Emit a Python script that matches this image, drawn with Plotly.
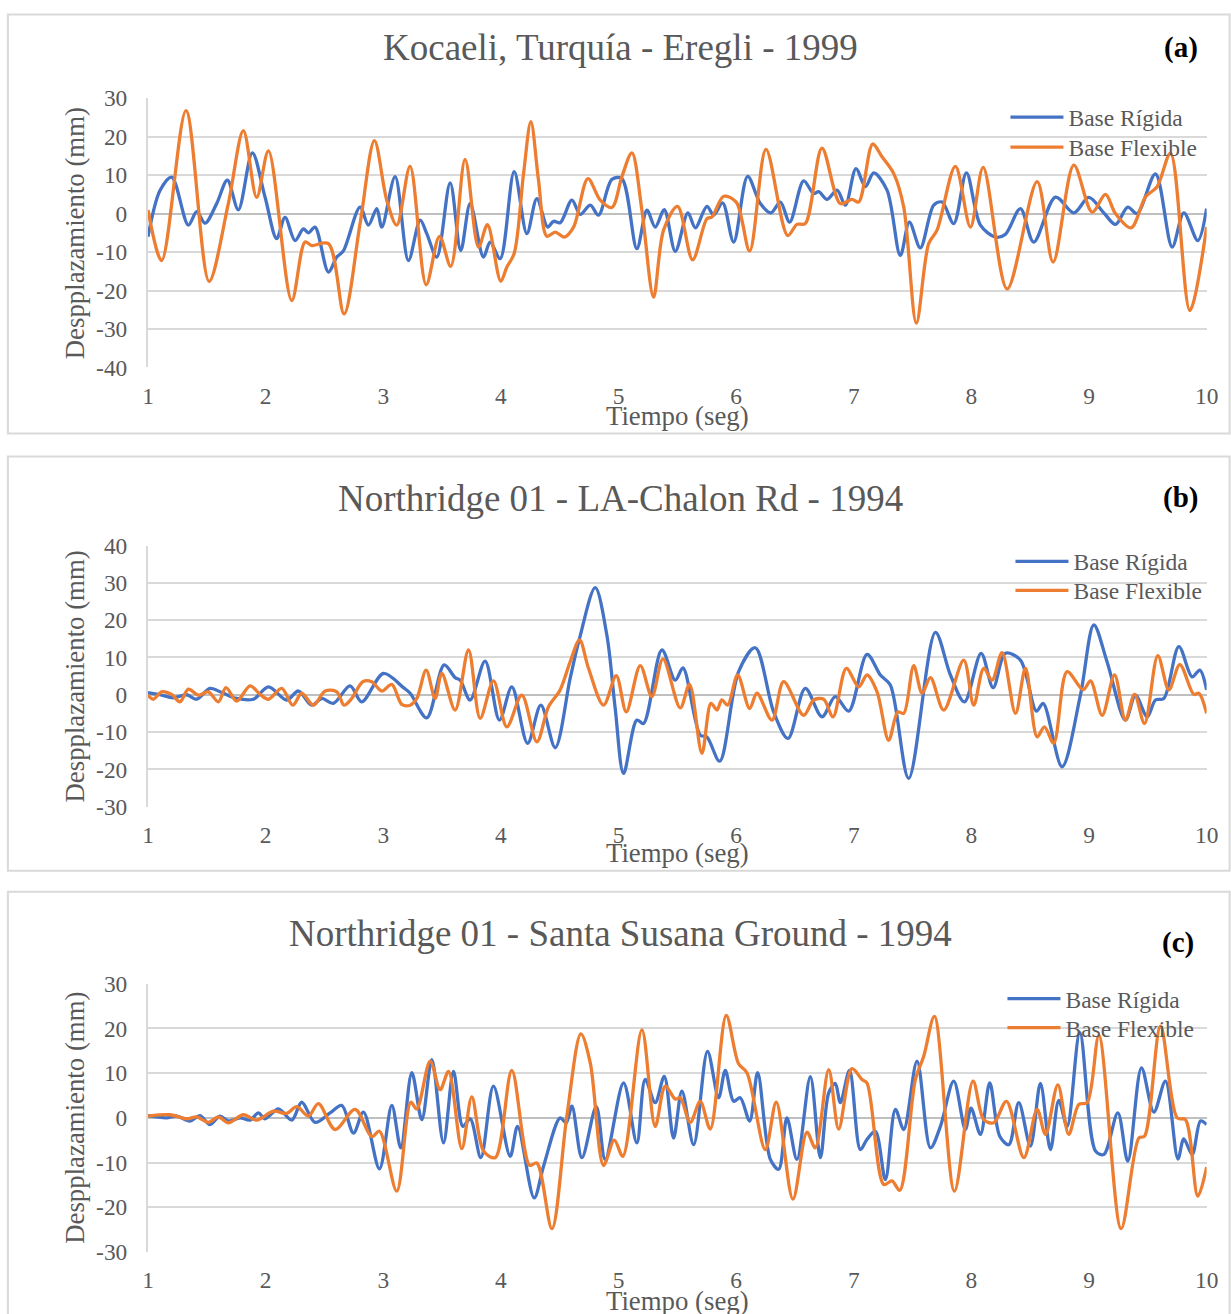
import plotly.graph_objects as go

# ---------------- data: displacement (mm) vs time (s) ----------------
# (a) Kocaeli, Turquía - Eregli - 1999
t_a_rig = [1.000, 1.102, 1.201, 1.343, 1.414, 1.485, 1.584, 1.675, 1.768, 1.887, 1.995, 2.094, 2.165, 2.250,
           2.321, 2.364, 2.420, 2.534, 2.605, 2.661, 2.803, 2.874, 2.945, 2.988, 3.101, 3.214, 3.314, 3.370,
           3.455, 3.569, 3.659, 3.739, 3.852, 3.909, 3.994, 4.113, 4.221, 4.306, 4.397, 4.448, 4.504, 4.604,
           4.675, 4.760, 4.830, 4.944, 5.029, 5.156, 5.242, 5.312, 5.389, 5.483, 5.590, 5.653, 5.752, 5.809,
           5.885, 5.979, 6.098, 6.206, 6.296, 6.376, 6.455, 6.574, 6.659, 6.702, 6.772, 6.858, 6.929, 7.019,
           7.099, 7.170, 7.283, 7.396, 7.473, 7.566, 7.680, 7.751, 7.850, 7.958, 8.077, 8.204, 8.289, 8.417,
           8.530, 8.715, 8.871, 8.998, 9.126, 9.225, 9.330, 9.409, 9.565, 9.707, 9.806, 9.925, 10.0]
a_rig = [-6, 6, 9.5, -3, 0.5, -2.5, 2.6, 8.7, 1, 15.8, 4.3, -6.5, -1, -7,
         -4, -5, -3.5, -15.2, -11.3, -9.7, 1.7, -3, 1.3, -3.5, 9.6, -12.2, -1.7, -5.2,
         -11.3, 8, -9.6, 2.6, -11.3, -7.4, -11.7, 10.9, -5.2, 3.9, -3.5, -2, -2.4, 3.5,
         -0.2, 2.2, -0.4, 8.9, 9.1, -9.1, 0.9, -3.5, 1, -9.8, 0.2, -3.7, 1.9, -0.4,
         2.8, -7.4, 9.7, 2.6, 0.2, 3, -2.2, 8.5, 5.2, 5.7, 3.7, 6.1, 2.2, 11.7,
         7, 10.6, 6.1, -10.9, -2.2, -8.9, 2.2, 3, -2.6, 10.6, -3, -6.1, -5.4, 1.3,
         -7.4, 4.3, 0.2, 4.2, 0.2, -2.8, 1.7, 0, 10.3, -8.7, 0.2, -7, 1.3]

t_a_flex = [1.000, 1.116, 1.323, 1.519, 1.683, 1.811, 1.924, 2.024, 2.222, 2.335, 2.392, 2.534, 2.667, 2.803,
            2.925, 3.030, 3.115, 3.228, 3.365, 3.478, 3.574, 3.696, 3.810, 3.886, 3.999, 4.051, 4.113, 4.193,
            4.255, 4.320, 4.391, 4.462, 4.538, 4.618, 4.740, 4.845, 4.944, 5.029, 5.114, 5.199, 5.298, 5.383,
            5.502, 5.630, 5.752, 5.794, 5.894, 6.001, 6.115, 6.254, 6.438, 6.517, 6.588, 6.730, 6.886, 6.985,
            7.042, 7.161, 7.240, 7.340, 7.425, 7.532, 7.637, 7.708, 7.864, 7.992, 8.100, 8.304, 8.559, 8.695,
            8.871, 9.027, 9.140, 9.225, 9.358, 9.480, 9.579, 9.693, 9.857, 10.0]
a_flex = [0.9, -12.2, 26.8, -17.6, 2.6, 21.6, 4.2, 16.3, -22.6, -7.4, -8.3, -7.8, -26.1, -2.6,
          19, 3.5, -3, 12.3, -18.5, -5.9, -13.7, 14.1, -8.7, -2.9, -17.6, -13.9, -10.4, 10.4,
          23.9, 8.7, -5.9, -4.8, -6.1, -3.5, 9.1, 3.5, 1.6, 9.6, 15.8, 0.9, -21.7, -4.3,
          1.9, -12, -1.3, -0.9, 4.5, 3, -9.7, 16.7, -5.7, -2.8, -2.6, 17, 2.6, 3.7,
          3, 18.1, 14.8, 10.4, 1.7, -28.5, -7.8, -4.3, 12.3, -3.5, 12, -19.6, 8.3, -12.6,
          12.6, 0.4, 5, 0, -3.7, 4.3, 7, 15.7, -25.2, -3.5]

# (b) Northridge 01 - LA-Chalon Rd - 1994
t_b_rig = [1.000, 1.102, 1.215, 1.329, 1.414, 1.527, 1.627, 1.754, 1.896, 2.024, 2.179, 2.279, 2.392, 2.477,
           2.576, 2.718, 2.817, 3.002, 3.172, 3.229, 3.370, 3.518, 3.611, 3.654, 3.739, 3.866, 3.988, 4.093,
           4.227, 4.340, 4.462, 4.589, 4.669, 4.802, 4.901, 4.972, 5.043, 5.156, 5.213, 5.369, 5.483, 5.548,
           5.695, 5.752, 5.860, 6.021, 6.163, 6.319, 6.441, 6.588, 6.730, 6.843, 6.957, 7.113, 7.226, 7.311,
           7.467, 7.694, 7.822, 7.941, 8.083, 8.185, 8.289, 8.417, 8.553, 8.610, 8.771, 8.927, 9.041, 9.154,
           9.310, 9.395, 9.495, 9.565, 9.636, 9.764, 9.877, 9.942, 10.0]
b_rig = [0.6, 0, -0.8, 0, -1.2, 1.7, 0.6, -1, -1.2, 2.1, -1.4, 1, -2.8, -1,
         -2.3, 2.4, -1.9, 5.7, 1.9, 0.4, -6.2, 8, 4.6, 3.9, -1.4, 9, -6.8, 2.1,
         -13, -2.8, -14.2, 4.4, 15.1, 28.7, 16, -3.7, -21.1, -6.8, -7.7, 12, 3.9, 7.2,
         -10.8, -11.3, -17.8, 6.2, 12.6, -4.6, -11.7, 1.7, -5.9, -0.5, -4.4, 10.8, 5.3, 2.6,
         -22.4, 16.7, 5.3, -1.9, 11.1, 1.9, 11.1, 9.3, -4.4, -2.3, -19.3, -0.1, 18.7, 8.8,
         -6.8, -0.1, -5.9, -1.4, -1, 12.9, 4.8, 6.6, 1.3]

t_b_flex = [1.000, 1.045, 1.116, 1.201, 1.272, 1.343, 1.428, 1.513, 1.598, 1.663, 1.754, 1.868, 1.953, 2.024,
            2.137, 2.231, 2.307, 2.406, 2.506, 2.605, 2.667, 2.732, 2.826, 2.902, 2.988, 3.073, 3.158, 3.229,
            3.285, 3.365, 3.441, 3.498, 3.611, 3.725, 3.824, 3.937, 4.051, 4.178, 4.306, 4.405, 4.504, 4.589,
            4.669, 4.745, 4.873, 4.981, 5.066, 5.185, 5.284, 5.378, 5.525, 5.604, 5.709, 5.786, 5.837, 5.879,
            5.928, 6.013, 6.115, 6.177, 6.305, 6.404, 6.574, 6.659, 6.744, 6.824, 6.937, 7.042, 7.113, 7.198,
            7.297, 7.374, 7.425, 7.510, 7.581, 7.652, 7.765, 7.935, 8.020, 8.105, 8.176, 8.261, 8.375, 8.460,
            8.559, 8.621, 8.700, 8.814, 8.950, 9.013, 9.112, 9.217, 9.310, 9.387, 9.472, 9.585, 9.679, 9.772,
            9.891, 9.934, 10.0]
b_flex = [-0.1, -1.2, 0.8, 0.1, -1.9, 1.5, -0.1, 0.8, -1.9, 1.9, -1.7, 2.4, 0.1, -1.2,
          1.7, -2.8, 0.4, -2.8, 1, 0.8, -2.8, -1, 3.5, 3.5, 1, 2.8, -2.6, -2.8,
          -1, 6.6, -1, 5.7, -4.1, 12, -6.3, 3.7, -8.6, -0.1, -12.6, -3.2, 1.3, 8.8,
          14.7, 7.1, -2.8, 5.1, -4.6, 7.8, -0.5, 9.6, -3.5, 2.8, -15.7, -2.3, -4.1, -1.4,
          -2.8, 5.3, -3.7, 0.4, -6.8, 3.5, -5.5, -1.4, -1.2, -5.9, 7.1, 2.1, 5.3, 0.8,
          -12.2, -4.6, -5, 7.8, 0.4, 4.6, -4.1, 9.3, -2.8, 7.1, 3.9, 11.3, -5, 7.1,
          -11.3, -8.6, -13, 6.2, 1.3, 3.7, -5.5, 5.3, -6.8, 0.1, -7.7, 10.5, 1.3, 8.1,
          0.1, 0.4, -5]

# (c) Northridge 01 - Santa Susana Ground - 1994
t_c_rig = [1.000, 1.074, 1.159, 1.244, 1.357, 1.442, 1.527, 1.612, 1.683, 1.783, 1.868, 1.938, 1.995, 2.109,
           2.222, 2.307, 2.420, 2.548, 2.647, 2.747, 2.832, 2.968, 3.073, 3.149, 3.243, 3.328, 3.413, 3.512,
           3.597, 3.677, 3.739, 3.830, 3.937, 4.079, 4.142, 4.283, 4.363, 4.504, 4.555, 4.604, 4.689, 4.811,
           4.887, 5.043, 5.156, 5.227, 5.312, 5.389, 5.468, 5.539, 5.639, 5.757, 5.851, 5.908, 5.979, 6.035,
           6.115, 6.183, 6.291, 6.362, 6.432, 6.517, 6.631, 6.716, 6.787, 6.843, 6.886, 6.964, 7.056, 7.113,
           7.184, 7.269, 7.354, 7.425, 7.538, 7.652, 7.737, 7.850, 7.949, 7.997, 8.077, 8.156, 8.241, 8.318,
           8.403, 8.502, 8.587, 8.672, 8.743, 8.814, 8.922, 9.055, 9.126, 9.245, 9.330, 9.446, 9.551, 9.650,
           9.756, 9.806, 9.877, 9.948, 10.0]
c_rig = [0.5, 0.2, 0, 0.4, -0.7, 0.5, -1.5, 0.4, -0.7, 0, -0.5, 1.1, -0.2, 2,
         -0.5, 3.5, -1, 1.1, 2.8, -3.4, 1.3, -11.4, 2.8, -6.7, 10.1, -0.4, 13, -5.6,
         10.4, -1.9, -0.2, -8.9, 7.1, -8.6, -1.9, -17.9, -10.8, 0, -1.1, 2.6, -8.9, 2.5,
         -9.3, 7.8, -5.6, 8.6, 3.4, 9.3, -4.5, 6, -6, 14.9, 4.5, 10.6, 3.7, 4.5,
         -0.7, 10.1, -9.3, -11.5, 0, -9.3, 9.2, -8.9, 5.6, 7.7, 3.4, 10.6, -7.1, -4.8,
         -3, -13.8, 1.9, -2.6, 12.7, -6.7, -1.9, 8.2, -2.6, 2.2, -3.7, 7.8, -4.1, -6,
         3.4, -6.3, 7.7, -7.1, 3.9, -1.9, 19.1, -7.4, -8.2, 1.1, -9.7, 11.2, 1.3, 8.2,
         -9.2, -4.7, -8.2, -0.7, -1.5]

t_c_flex = [1.000, 1.187, 1.329, 1.414, 1.513, 1.598, 1.683, 1.811, 1.924, 2.066, 2.179, 2.265, 2.364, 2.449,
            2.591, 2.761, 2.902, 2.968, 3.115, 3.234, 3.285, 3.399, 3.484, 3.555, 3.668, 3.753, 3.852, 3.952,
            4.093, 4.244, 4.306, 4.434, 4.561, 4.680, 4.760, 4.873, 4.964, 5.037, 5.199, 5.312, 5.398, 5.483,
            5.525, 5.610, 5.695, 5.780, 5.916, 6.021, 6.092, 6.248, 6.341, 6.483, 6.602, 6.673, 6.787, 6.872,
            6.985, 7.070, 7.113, 7.255, 7.325, 7.391, 7.524, 7.595, 7.686, 7.856, 8.014, 8.105, 8.190, 8.298,
            8.446, 8.559, 8.630, 8.735, 8.828, 8.913, 8.984, 9.084, 9.273, 9.424, 9.472, 9.608, 9.750, 9.820,
            9.925, 10.0]
c_flex = [0.4, 0.7, -0.2, 0.2, -1, 0.2, -1.1, 0.7, -0.5, 1.5, 1, 2.5, 0.4, 3.2,
          -2.6, 1.9, -4.2, -3, -16.4, 3.5, 2, 12.7, 6.3, 10.4, -6.9, 4.7, -7.4, -8.9,
          10.6, -10.6, -10.1, -24.8, 0.4, 18.8, 12.3, -10.6, -5, -8.6, 19.7, -1.9, 7.1, 4.2,
          4.5, -1, 3.7, -2.5, 22.9, 12.1, 10.1, -7.1, 3.5, -18.2, -3.2, -6.7, 10.8, -2.5,
          11, 8.6, 7.8, -14.9, -14.1, -16.2, 8.6, 13.8, 22.7, -16.4, 8.2, -0.4, -1.1, 3.7,
          -8.9, 1.9, -3.7, 7.4, -3.7, 3, 3.4, 18.4, -24.8, -4.5, -4.1, 20.5, 0, -0.4,
          -17.5, -11]

titles = ["Kocaeli, Turquía - Eregli - 1999",
          "Northridge 01 - LA-Chalon Rd - 1994",
          "Northridge 01 - Santa Susana Ground - 1994"]
tags = ["(a)", "(b)", "(c)"]
series_names = ["Base Rígida", "Base Flexible"]
y_ranges = [(-40, 30), (-30, 40), (-30, 30)]
x_ticks = list(range(1, 11))

# ---------------- page geometry ----------------
# Positions below are page pixels of the final view; the page shows the figure
# slightly reduced and offset, so each position is mapped back into figure pixels.
SX, BX = 0.985, 6.1
SY, BY = 0.980, 12.8
W, H = 1250, 1340
FONT = "Liberation Serif, Times New Roman, serif"
GREY_TXT = "#595959"
GRID = "#d9d9d9"
BLUE, ORANGE = "#4472C4", "#ED7D31"


def fx(x):
    return (x - BX) / SX


def fy(y):
    return (y - BY) / SY


def px(x):
    return fx(x) / W


def py(y):
    return 1 - fy(y) / H


plot_x = (148, 1206)
panels = [
    dict(plot_y=(98, 367), box=(8, 6, 1229, 433), title_y=47, tag=(1180, 47), ytitle_y=233, xtitle_y=416,
         legend_x=1067, legend_y=(117, 147)),
    dict(plot_y=(545, 806), box=(8, 456, 1229, 870), title_y=498, tag=(1180, 497), ytitle_y=676, xtitle_y=852,
         legend_x=1072, legend_y=(561, 590)),
    dict(plot_y=(983, 1251), box=(8, 891, 1229, 1340), title_y=933, tag=(1177, 942), ytitle_y=1117,
         xtitle_y=1300, legend_x=1064, legend_y=(998, 1027)),
]

data_sets = [(t_a_rig, a_rig, t_a_flex, a_flex),
             (t_b_rig, b_rig, t_b_flex, b_flex),
             (t_c_rig, c_rig, t_c_flex, c_flex)]

fig = go.Figure()
shapes, annotations = [], []
layout = {}
LEG_TEXT_OFFSET = 63  # figure pixels from a legend's left edge to its label text

for i, (p, (tr, vr, tf, vf)) in enumerate(zip(panels, data_sets)):
    n = "" if i == 0 else str(i + 1)
    xa, ya = "x" + n, "y" + n
    series = [(tr, vr, series_names[0], BLUE), (tf, vf, series_names[1], ORANGE)]
    for k, (t, v, name, col) in enumerate(series):
        leg_id = 2 * i + k + 1
        leg = "legend" if leg_id == 1 else "legend%d" % leg_id
        fig.add_trace(go.Scatter(x=t, y=v, name=name, mode="lines", xaxis=xa, yaxis=ya, legend=leg,
                                 line=dict(color=col, width=3.3, shape="spline", smoothing=0.9)))
        layout[leg] = dict(x=(fx(p["legend_x"]) - LEG_TEXT_OFFSET) / W, y=py(p["legend_y"][k]),
                           xanchor="left", yanchor="middle", bgcolor="rgba(0,0,0,0)",
                           itemwidth=53, font=dict(family=FONT, size=23.5, color=GREY_TXT))

    lo, hi = y_ranges[i]
    y_vals = list(range(lo, hi + 1, 10))
    layout["xaxis" + n] = dict(domain=[px(plot_x[0]), px(plot_x[1])], range=[1, 10], anchor=ya,
                               tickvals=x_ticks, ticktext=[str(v) for v in x_ticks],
                               showgrid=False, zeroline=False, showline=False,
                               ticks="", ticklabelstandoff=12,
                               tickfont=dict(family=FONT, size=23.4, color=GREY_TXT))
    layout["yaxis" + n] = dict(domain=[py(p["plot_y"][1]), py(p["plot_y"][0])], range=[lo, hi],
                               anchor=xa, tickvals=y_vals, ticktext=[str(v) for v in y_vals],
                               showgrid=True, gridcolor=GRID, gridwidth=2,
                               zeroline=True, zerolinecolor="#bfbfbf", zerolinewidth=2,
                               showline=True, linecolor=GRID, linewidth=2, ticks="", ticklabelstandoff=14,
                               tickfont=dict(family=FONT, size=23.4, color=GREY_TXT))

    # panel frame; its top edge is kept inside the visible page area
    bx0, by0, bx1, by1 = p["box"]
    y_top = min(py(by0), py(BY + 1.5))
    shapes.append(dict(type="rect", xref="paper", yref="paper", x0=px(bx0), x1=px(bx1), y0=py(by1), y1=y_top,
                       line=dict(color=GRID, width=2), layer="below"))

    annotations += [
        dict(text=titles[i], x=px(620), y=py(p["title_y"]), xref="paper", yref="paper", showarrow=False,
             xanchor="center", yanchor="middle", font=dict(family=FONT, size=37, color=GREY_TXT)),
        dict(text="<b>" + tags[i] + "</b>", x=px(p["tag"][0]), y=py(p["tag"][1]), xref="paper", yref="paper",
             showarrow=False, xanchor="center", yanchor="middle", font=dict(family=FONT, size=29, color="#000000")),
        dict(text="Despplazamiento (mm)", x=px(75), y=py(p["ytitle_y"]), xref="paper", yref="paper",
             showarrow=False, textangle=-90, xanchor="center", yanchor="middle",
             font=dict(family=FONT, size=26.8, color=GREY_TXT)),
        dict(text="Tiempo (seg)", x=px(677), y=py(p["xtitle_y"]), xref="paper", yref="paper", showarrow=False,
             xanchor="center", yanchor="middle", font=dict(family=FONT, size=26.8, color=GREY_TXT)),
    ]

fig.update_layout(width=W, height=H, margin=dict(l=0, r=0, t=0, b=0), paper_bgcolor="white",
                  plot_bgcolor="white", showlegend=True, shapes=shapes, annotations=annotations, **layout)

fig.write_html("out.html", config={"displayModeBar": False})
